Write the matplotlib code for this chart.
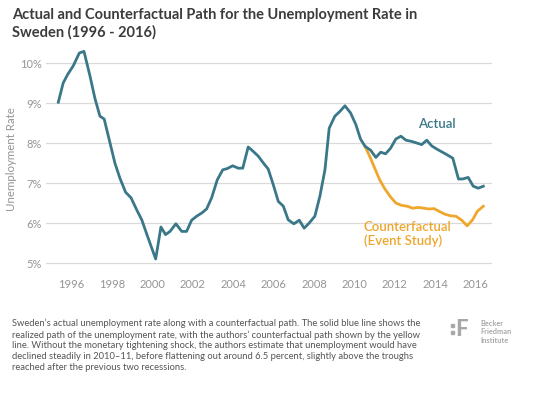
import matplotlib
matplotlib.use("Agg")
import matplotlib.pyplot as plt
from matplotlib.patches import Rectangle

# ---------------- data ----------------
actual_year = [1995.34, 1995.58, 1995.80, 1996.08, 1996.38, 1996.61, 1996.91, 1997.15, 1997.40, 1997.61,
               1997.90, 1998.14, 1998.39, 1998.67, 1998.94, 1999.22, 1999.47, 1999.79, 2000.16, 2000.42,
               2000.65, 2000.87, 2001.16, 2001.45, 2001.69, 2001.94, 2002.19, 2002.44, 2002.68, 2002.93,
               2003.21, 2003.48, 2003.70, 2003.97, 2004.25, 2004.47, 2004.74, 2004.99, 2005.24, 2005.49,
               2005.73, 2005.98, 2006.23, 2006.48, 2006.72, 2007.00, 2007.27, 2007.51, 2007.76, 2008.04,
               2008.29, 2008.54, 2008.75, 2009.03, 2009.28, 2009.53, 2009.81, 2010.07, 2010.30, 2010.52,
               2010.80, 2011.06, 2011.30, 2011.54, 2011.79, 2012.05, 2012.30, 2012.55, 2012.83, 2013.08,
               2013.33, 2013.58, 2013.82, 2014.07, 2014.32, 2014.57, 2014.87, 2015.15, 2015.36, 2015.63,
               2015.88, 2016.13, 2016.38]
actual_rate = [9.02, 9.50, 9.71, 9.93, 10.25, 10.29, 9.67, 9.12, 8.67, 8.60,
               8.00, 7.50, 7.12, 6.77, 6.63, 6.33, 6.08, 5.62, 5.10, 5.90,
               5.71, 5.79, 5.98, 5.79, 5.79, 6.07, 6.17, 6.25, 6.35, 6.63,
               7.08, 7.33, 7.36, 7.43, 7.37, 7.37, 7.90, 7.79, 7.67, 7.50,
               7.35, 6.96, 6.54, 6.42, 6.08, 5.98, 6.07, 5.87, 6.00, 6.17,
               6.67, 7.33, 8.37, 8.67, 8.79, 8.93, 8.75, 8.46, 8.10, 7.92,
               7.82, 7.64, 7.77, 7.73, 7.87, 8.10, 8.17, 8.07, 8.04, 8.00,
               7.96, 8.07, 7.93, 7.85, 7.78, 7.71, 7.62, 7.10, 7.10, 7.14,
               6.92, 6.87, 6.92]

cf_year = [2010.52, 2010.77, 2011.02, 2011.26, 2011.51, 2011.79, 2012.05, 2012.34, 2012.61, 2012.88,
           2013.16, 2013.44, 2013.70, 2013.94, 2014.20, 2014.48, 2014.76, 2015.02, 2015.31, 2015.58,
           2015.85, 2016.08, 2016.38]
cf_rate = [7.92, 7.65, 7.35, 7.07, 6.85, 6.65, 6.50, 6.44, 6.42, 6.37,
           6.39, 6.37, 6.35, 6.36, 6.29, 6.22, 6.18, 6.17, 6.07, 5.93,
           6.08, 6.29, 6.42]

x_ticks = [1996, 1998, 2000, 2002, 2004, 2006, 2008, 2010, 2012, 2014, 2016]
y_ticks = [5, 6, 7, 8, 9, 10]

title = "Actual and Counterfactual Path for the Unemployment Rate in\nSweden (1996 - 2016)"
caption = ("Sweden\u2019s actual unemployment rate along with a counterfactual path. The solid blue line shows the\n"
           "realized path of the unemployment rate, with the authors\u2019 counterfactual path shown by the yellow\n"
           "line. Without the monetary tightening shock, the authors estimate that unemployment would have\n"
           "declined steadily in 2010\u201311, before flattening out around 6.5 percent, slightly above the troughs\n"
           "reached after the previous two recessions.")

# ---------------- style ----------------
TEAL = "#3a7889"
ORANGE = "#eea72c"
GRID = "#dadada"
TICK = "#959595"
plt.rcParams['font.family'] = ['Lato', 'DejaVu Sans']

fig = plt.figure(figsize=(5.35, 4.0), dpi=100)
fig.patch.set_facecolor("white")

ax = fig.add_axes([46/535, (400-271)/400, 446/535, 224/400])
ax.plot(actual_year, actual_rate, color=TEAL, lw=2.0, solid_joinstyle='round', zorder=3)
ax.plot(cf_year, cf_rate, color=ORANGE, lw=2.0, solid_joinstyle='round', zorder=2)

ax.set_xlim(1994.73, 2016.81)
ax.set_ylim(4.8, 10.4)
ax.set_yticks(y_ticks)
ax.set_yticklabels([f"{v}%" for v in y_ticks])
ax.set_xticks(x_ticks)
ax.set_xticklabels([str(v) for v in x_ticks])
for s in ax.spines.values():
    s.set_visible(False)
ax.grid(axis='y', color=GRID, lw=0.9)
ax.set_axisbelow(True)
ax.tick_params(axis='both', length=0, colors=TICK, labelsize=8)
ax.tick_params(axis='y', pad=3)
ax.tick_params(axis='x', pad=6)
ax.set_ylabel("Unemployment Rate", color=TICK, fontsize=8.3, labelpad=2)

ax.text(2013.16, 8.48, "Actual", color=TEAL, fontsize=9.5, fontweight='semibold', va='center', ha='left')
ax.text(2010.45, 5.72, "Counterfactual\n(Event Study)", color=ORANGE, fontsize=9.5, fontweight='semibold',
        va='center', ha='left', linespacing=1.1)

fig.text(12/535, 1 - 8/400, title, fontsize=10.5, fontweight='bold', color="#3c3c3c",
         va='top', ha='left', linespacing=1.25)
fig.text(12/535, 1 - 319/400, caption, fontsize=6.75, color="#555555", va='top', ha='left',
         linespacing=1.25)

# logo
fig.text(480/535, 1 - 332/400, "Becker\nFriedman\nInstitute", fontsize=5.3, color="#a8a8a8",
         va='center', ha='left', linespacing=1.2, fontweight='bold')
fig.text(455/535, 1 - 330/400, "F", fontsize=16, color="#a8a8a8", va='center', ha='left',
         fontweight='black')
fig.patches.append(Rectangle((450.5/535, 1 - 327/400), 3/535, 3/400, transform=fig.transFigure,
                             color="#a8a8a8"))
fig.patches.append(Rectangle((450.5/535, 1 - 334/400), 3/535, 3/400, transform=fig.transFigure,
                             color="#a8a8a8"))

fig.savefig("out.png", dpi=100, facecolor="white")
